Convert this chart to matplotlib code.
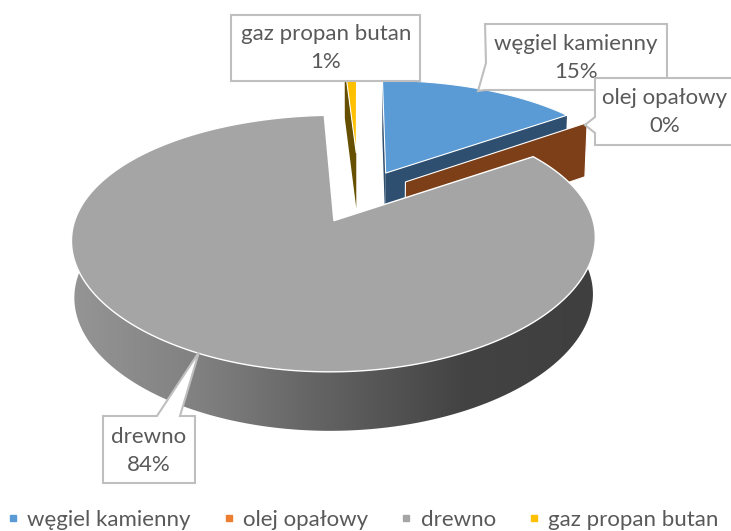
import numpy as np
import matplotlib
matplotlib.use('Agg')
import matplotlib.pyplot as plt
from matplotlib.patches import Polygon
from matplotlib.lines import Line2D
from matplotlib.colors import LinearSegmentedColormap

plt.rcParams['font.family'] = ['Lato', 'DejaVu Sans']

categories = ['węgiel kamienny', 'olej opałowy', 'drewno', 'gaz propan butan']
values = [15.0, 0.4, 83.7, 0.9]
percent_labels = ['15%', '0%', '84%', '1%']
explode = [0.24, 0.23, 0.22, 0.405]

top_colors = ['#5b9bd5', '#ed7d31', '#a5a5a5', '#ffc000']
wall_colors = ['#2e4f70', '#7c3f18', '#6a6a6a', '#665000']
text_color = '#595959'
box_color = '#bfbfbf'

# perspective of the pie, in image pixels
cx, cy = 359, 197
rx, ry = 252, 116
persp_x, persp_y = 0.14, 0.1716


def project(u, v):
    return cx + rx * u / (1 + persp_x * v), cy - ry * v / (1 + persp_y * v)


def drop(x, y, v):
    # same point on the underside of the pie
    return cx + (x - cx) * 0.99, y + 56 - 2.5 * v


def slice_arc(i, n=200):
    edges = np.cumsum([0] + values) / sum(values) * 2 * np.pi
    mid = (edges[i] + edges[i + 1]) / 2
    u0 = explode[i] * np.sin(mid)
    v0 = explode[i] * np.cos(mid)
    a = np.linspace(edges[i], edges[i + 1], n)
    return u0, v0, u0 + np.sin(a), v0 + np.cos(a)


def top_face(i):
    u0, v0, us, vs = slice_arc(i)
    x0, y0 = project(u0, v0)
    xs, ys = project(us, vs)
    return np.column_stack([np.r_[x0, xs], np.r_[y0, ys]])


def edge_wall(i, last=False):
    # the flat cut side of a slice, from apex to rim
    u0, v0, us, vs = slice_arc(i)
    k = -1 if last else 0
    x0, y0 = project(u0, v0)
    x1, y1 = project(us[k], vs[k])
    x2, y2 = drop(x1, y1, vs[k])
    x3, y3 = drop(x0, y0, v0)
    return [(x0, y0), (x1, y1), (x2, y2), (x3, y3)]


fig = plt.figure(figsize=(7.31, 5.31), dpi=100)
ax = fig.add_axes([0, 0, 1, 1])

# yellow slice
ax.add_patch(Polygon(edge_wall(3), fc=wall_colors[3], ec='none', zorder=1))
ax.add_patch(Polygon(top_face(3), fc=top_colors[3], ec='white', lw=0.8, zorder=2))

# blue slice
ax.add_patch(Polygon(edge_wall(0, last=True), fc=wall_colors[0], ec='none', zorder=3))
ax.add_patch(Polygon(edge_wall(0), fc=wall_colors[0], ec='none', zorder=3))
ax.add_patch(Polygon(top_face(0), fc=top_colors[0], ec='white', lw=0.8, zorder=4))

# brown slice, only its cut side shows
ax.add_patch(Polygon(edge_wall(1), fc=wall_colors[1], ec='white', lw=0.8, zorder=5))

# grey slice with shaded rim
u0, v0, us, vs = slice_arc(2)
xs, ys = project(us, vs)
xb, yb = drop(xs, ys, vs)
rim = Polygon(np.column_stack([np.r_[xs, xb[::-1]], np.r_[ys, yb[::-1]]]), fc='none', ec='none')
ax.add_patch(rim)
shade = LinearSegmentedColormap.from_list('rim', [(0, '#959595'), (0.25, '#808080'), (0.45, '#666666'),
                                                  (0.75, '#434343'), (1, '#3f3f3f')])
img = ax.imshow(np.linspace(0, 1, 256).reshape(1, -1), cmap=shade, aspect='auto',
                extent=[71, 595, 440, 200], zorder=7)
img.set_clip_path(rim)
ax.add_patch(Polygon(top_face(2), fc=top_colors[2], ec='white', lw=1.0, zorder=8))


def callout(points, label, pct, tx, ty, z):
    ax.add_patch(Polygon(points, fc='white', ec=box_color, lw=1.5, joinstyle='miter', zorder=z))
    ax.text(tx, ty, label + '\n' + pct, color=text_color, fontsize=16, ha='center', va='center',
            linespacing=1.55, zorder=z)


callout([(231, 15), (420, 15), (420, 81), (231, 81)], categories[3], percent_labels[3], 326, 48, 20)
callout([(485, 24), (667, 24), (667, 90), (485, 90), (478, 91), (486, 63)],
        categories[0], percent_labels[0], 576, 58, 21)
callout([(595, 78), (735, 78), (735, 145), (595, 145), (595, 133), (585, 125), (595, 117)],
        categories[1], percent_labels[1], 665, 112, 22)
callout([(103, 416), (157, 416), (199, 352), (180, 416), (195, 416), (195, 483), (103, 483)],
        categories[2], percent_labels[2], 149, 451, 23)

handles = [Line2D([], [], ls='none', marker='s', ms=5, mfc=c, mec=c) for c in top_colors]
ax.legend(handles, categories, ncol=4, loc='lower left', bbox_to_anchor=(0.01, 0.002), frameon=False,
          fontsize=16, labelcolor=text_color, handlelength=0.5, handletextpad=0.4, columnspacing=1.46,
          borderpad=0, borderaxespad=0)

ax.set_xlim(0, 731)
ax.set_ylim(531, 0)
ax.axis('off')

fig.savefig('out.png', dpi=100)
